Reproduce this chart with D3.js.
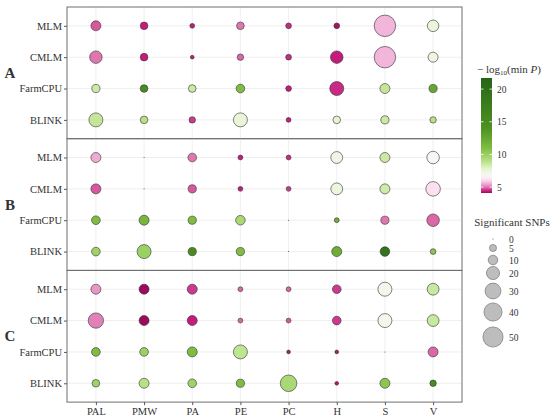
<!DOCTYPE html>
<html>
<head lang="en">
    <meta charset="UTF-8">
    <script type="text/javascript" src="https://d3js.org/d3.v7.min.js"></script>
    <style>
        body { margin: 0; background: #fff; }
        text { font-family: "Liberation Serif", "DejaVu Serif", serif; fill: #333; }
    </style>
</head>
<body>
    <svg id="chart" width="550" height="418"></svg>
    <script>
        // categories
        var traits = ["PAL", "PMW", "PA", "PE", "PC", "H", "S", "V"];
        var models = ["MLM", "CMLM", "FarmCPU", "BLINK"];
        var panels = ["A", "B", "C"];

        // number of significant SNPs, rows = models, cols = traits
        var snpA = [
            [11, 6, 2, 6, 3, 3, 57, 15],
            [18, 6, 1, 4, 3, 18, 57, 11],
            [7, 6, 6, 8, 3, 23, 11, 7],
            [23, 6, 4, 23, 2, 6, 7, 4]
        ];
        var snpB = [
            [11, 0, 8, 2, 2, 16, 11, 18],
            [11, 0, 7, 2, 2, 16, 11, 25],
            [8, 11, 7, 10, 0, 2, 7, 18],
            [8, 23, 7, 7, 0, 11, 10, 3]
        ];
        var snpC = [
            [11, 11, 11, 2, 2, 8, 23, 16],
            [28, 11, 11, 2, 2, 8, 23, 16],
            [8, 8, 11, 23, 1, 1, 0, 11],
            [6, 11, 8, 7, 33, 1, 11, 4]
        ];

        // -log10(min P)
        var logpA = [
            [4.8, 4.4, 4.4, 5.0, 4.5, 4.2, 5.6, 7.5],
            [5.0, 4.4, 4.4, 4.9, 4.5, 4.4, 5.6, 7.3],
            [8.5, 15, 8.5, 11, 4.4, 4.5, 8.7, 12.5],
            [8.7, 9.0, 4.6, 7.6, 4.4, 7.8, 8.5, 9.0]
        ];
        var logpB = [
            [5.5, 5.0, 5.0, 4.4, 4.5, 7.2, 8.5, 6.8],
            [4.8, 5.0, 4.8, 4.4, 4.6, 7.4, 8.4, 6.1],
            [11, 11.5, 11, 9.5, 5.0, 12, 5.0, 4.9],
            [9.8, 10, 15, 11, 5.0, 12, 19, 10.5]
        ];
        var logpC = [
            [5.3, 4.1, 4.6, 4.9, 4.9, 4.6, 7.0, 8.6],
            [5.1, 4.1, 4.4, 4.9, 4.8, 4.6, 7.0, 8.6],
            [11, 10, 11, 8.8, 4.3, 4.3, 5.0, 4.9],
            [9.8, 9.0, 9.8, 11, 9.5, 4.3, 10.5, 15]
        ];

        var snpData = [snpA, snpB, snpC];
        var logpData = [logpA, logpB, logpC];

        var colorTicks = [5, 10, 15, 20];
        var sizeBreaks = [0, 5, 10, 20, 30, 40, 50];

        var svg = d3.select("#chart");

        var plotLeft = 67, plotRight = 462, plotTop = 7, panelH = 131.7;

        var x = d3.scalePoint().domain(traits).range([plotLeft, plotRight]).padding(0.6);
        var r = d3.scaleSqrt().domain([0, 60]).range([0.5, 11]);

        var color = d3.scaleLinear()
            .domain([4.1, 4.4, 5.0, 5.6, 6.1, 6.7, 7.8, 9.0, 11, 14, 21.7])
            .range(["#9b0a5b", "#c51b7d", "#de77ae", "#f1b6da", "#fde0ef", "#f7f7f7",
                    "#e6f5d0", "#b8e186", "#7fbc41", "#4d9221", "#276419"])
            .clamp(true);

        panels.forEach(function(p, pi){
            var y0 = plotTop + pi * panelH;
            var y = d3.scalePoint().domain(models).range([y0, y0 + panelH]).padding(0.6);
            var g = svg.append("g");

            // grid
            g.selectAll("line.gx").data(traits).enter().append("line")
                .attr("x1", function(d){ return x(d); }).attr("x2", function(d){ return x(d); })
                .attr("y1", y0).attr("y2", y0 + panelH)
                .attr("stroke", "#ebebeb").attr("stroke-width", 0.8);
            g.selectAll("line.gy").data(models).enter().append("line")
                .attr("x1", plotLeft).attr("x2", plotRight)
                .attr("y1", function(d){ return y(d); }).attr("y2", function(d){ return y(d); })
                .attr("stroke", "#ebebeb").attr("stroke-width", 0.8);

            // y axis
            g.append("g")
                .attr("transform", "translate(" + plotLeft + ",0)")
                .call(d3.axisLeft(y).tickSize(3).tickPadding(2))
                .call(function(a){
                    a.select(".domain").remove();
                    a.selectAll("line").attr("stroke", "#555");
                    a.selectAll("text").attr("font-size", 10.5).attr("fill", "#222");
                });

            // facet letter
            g.append("text").attr("x", 10).attr("y", y0 + panelH / 2 + 5)
                .attr("text-anchor", "middle").attr("font-size", 15).attr("font-weight", "bold")
                .attr("fill", "#111").text(p);

            var cells = [];
            models.forEach(function(m, mi){
                traits.forEach(function(t, ti){
                    cells.push({m: m, t: t, n: snpData[pi][mi][ti], v: logpData[pi][mi][ti]});
                });
            });

            g.selectAll("circle").data(cells).enter().append("circle")
                .attr("cx", function(d){ return x(d.t); })
                .attr("cy", function(d){ return y(d.m); })
                .attr("r", function(d){ return r(d.n); })
                .attr("fill", function(d){ return d.n === 0 ? "#444" : color(d.v); })
                .attr("stroke", function(d){ return d.n === 0 ? "none" : "#333"; })
                .attr("stroke-width", 0.6);

            // panel border
            g.append("rect").attr("x", plotLeft).attr("y", y0)
                .attr("width", plotRight - plotLeft).attr("height", panelH)
                .attr("fill", "none").attr("stroke", "#6e6e6e").attr("stroke-width", 1);
        });

        // x axis
        svg.append("g")
            .attr("transform", "translate(0," + (plotTop + 3 * panelH) + ")")
            .call(d3.axisBottom(x).tickSize(3).tickPadding(2))
            .call(function(a){
                a.select(".domain").remove();
                a.selectAll("line").attr("stroke", "#555");
                a.selectAll("text").attr("font-size", 10.5).attr("fill", "#222");
            });

        // colour legend
        var ct = svg.append("text").attr("x", 477).attr("y", 73).attr("font-size", 11).attr("fill", "#222");
        ct.append("tspan").text("− log");
        ct.append("tspan").attr("font-size", 7).attr("dy", 2).text("10");
        ct.append("tspan").attr("dy", -2).text("(min ");
        ct.append("tspan").attr("font-style", "italic").text("P");
        ct.append("tspan").text(")");

        var barTop = 78, barBot = 193, barX = 481, barW = 11;
        var cy = d3.scaleLinear().domain([4.1, 21.7]).range([barBot, barTop]);
        var grad = svg.append("defs").append("linearGradient").attr("id", "cbar")
            .attr("x1", 0).attr("y1", 1).attr("x2", 0).attr("y2", 0);
        d3.range(0, 1.0001, 0.02).forEach(function(t){
            grad.append("stop").attr("offset", t)
                .attr("stop-color", color(4.1 + t * (21.7 - 4.1)));
        });
        svg.append("rect").attr("x", barX).attr("y", barTop).attr("width", barW)
            .attr("height", barBot - barTop).attr("fill", "url(#cbar)");
        colorTicks.forEach(function(v){
            svg.append("line").attr("x1", barX).attr("x2", barX + 2.5)
                .attr("y1", cy(v)).attr("y2", cy(v)).attr("stroke", "#fff").attr("stroke-width", 0.8);
            svg.append("line").attr("x1", barX + barW - 2.5).attr("x2", barX + barW)
                .attr("y1", cy(v)).attr("y2", cy(v)).attr("stroke", "#fff").attr("stroke-width", 0.8);
            svg.append("text").attr("x", barX + barW + 5).attr("y", cy(v) + 3.5)
                .attr("font-size", 9.5).attr("fill", "#222").text(v);
        });

        // size legend
        svg.append("text").attr("x", 512).attr("y", 226).attr("text-anchor", "middle")
            .attr("font-size", 11).attr("fill", "#222").text("Significant SNPs");
        var sizeY = [239, 248, 260, 273, 291, 312, 337];
        sizeBreaks.forEach(function(v, i){
            svg.append("circle").attr("cx", 493).attr("cy", sizeY[i]).attr("r", r(v))
                .attr("fill", v === 0 ? "#444" : "#bdbdbd")
                .attr("stroke", v === 0 ? "none" : "#666").attr("stroke-width", 0.6);
            svg.append("text").attr("x", 509).attr("y", sizeY[i] + 3.5)
                .attr("font-size", 9.5).attr("fill", "#222").text(v);
        });
    </script>
</body>
</html>
